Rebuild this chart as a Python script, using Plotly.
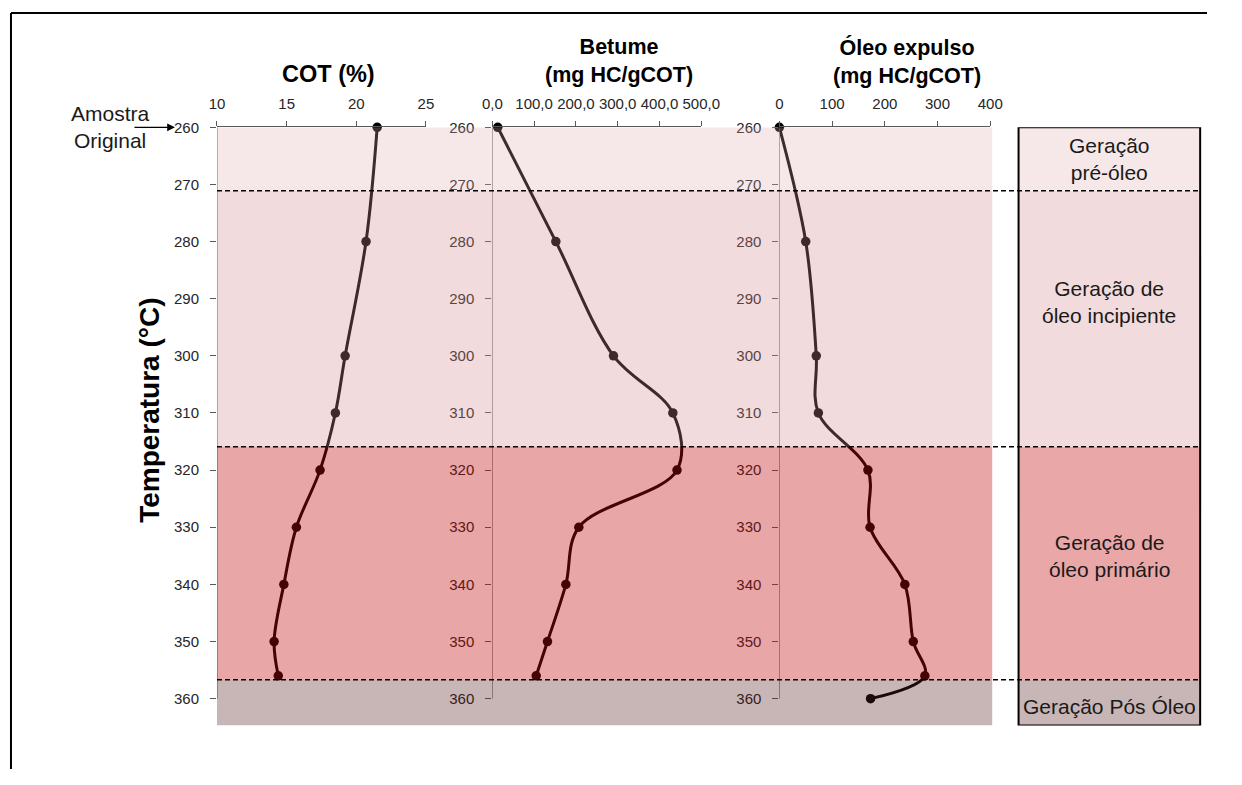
import plotly.graph_objects as go

# ---------------- data ----------------
temp_cot = [260, 280, 300, 310, 320, 330, 340, 350, 356]
cot = [21.5, 20.7, 19.2, 18.5, 17.4, 15.7, 14.8, 14.1, 14.4]

temp_bet = [260, 280, 300, 310, 320, 330, 340, 350, 356]
betume = [13, 152, 290, 432, 442, 207, 176, 132, 105]

temp_oleo = [260, 280, 300, 310, 320, 330, 340, 350, 356, 360]
oleo = [0, 50, 70, 74, 168, 172, 238, 254, 276, 173]

cot_ticks = [10, 15, 20, 25]
bet_ticks = [0, 100, 200, 300, 400, 500]
bet_ticktext = ["0,0", "100,0", "200,0", "300,0", "400,0", "500,0"]
oleo_ticks = [0, 100, 200, 300, 400]
temp_ticks = [260, 270, 280, 290, 300, 310, 320, 330, 340, 350, 360]

zone_bounds = [260, 271.1, 315.9, 356.7, 364.7]
zone_labels = ["Geração<br>pré-óleo", "Geração de<br>óleo incipiente",
               "Geração de<br>óleo primário", "Geração Pós Óleo"]
zone_label_y = [265.6, 290.5, 335.0, 361.3]

# ---------------- styling ----------------
# the page body keeps its default 8 px margin, so the figure is 16 px smaller
OFF = 8
W, H = 1242 - 2 * OFF, 785 - 2 * OFF
def px(x):
    return (x - OFF) / W
def py(y):
    return 1 - (y - OFF) / H

FONT = "Liberation Sans, Arial, sans-serif"
overlay = ["rgba(222,170,174,0.27)", "rgba(212,135,138,0.30)",
           "rgba(194,8,11,0.36)", "rgba(83,24,24,0.32)"]
opaque = ["#F6E8E9", "#F2DBDC", "#E9A7A8", "#C8B5B5"]
AXC = "#595959"
TXT = "#262626"

fig = go.Figure()
for xs, ys, xa, ya in [(cot, temp_cot, "x", "y"), (betume, temp_bet, "x2", "y2"),
                       (oleo, temp_oleo, "x3", "y3")]:
    fig.add_trace(go.Scatter(
        x=xs, y=ys, xaxis=xa, yaxis=ya, mode="lines+markers",
        line=dict(color="#000000", width=3, shape="spline", smoothing=1.0),
        marker=dict(color="#000000", size=9.5),
        cliponaxis=False, showlegend=False, hoverinfo="skip"))

ydom = [py(733), py(127.7)]
yrange = [zone_bounds[-1], 260]

def xax(dom, rng, tv, tt=None):
    d = dict(domain=dom, range=rng, side="top", tickvals=tv, showgrid=False,
             zeroline=False, showline=True, linecolor=AXC, linewidth=1,
             ticks="outside", ticklen=5, tickcolor=AXC,
             tickfont=dict(family=FONT, size=15, color=TXT),
             ticklabelstandoff=6)
    if tt is not None:
        d["ticktext"] = tt
    return d

def yax(anchor):
    return dict(domain=ydom, range=yrange, anchor=anchor, tickvals=temp_ticks,
                showgrid=False, zeroline=False, showline=False,
                ticks="outside", ticklen=6, tickcolor=AXC,
                tickfont=dict(family=FONT, size=15, color=TXT),
                ticklabelstandoff=8)

fig.update_layout(
    width=W, height=H, margin=dict(l=0, r=0, t=0, b=0),
    paper_bgcolor="white", plot_bgcolor="rgba(0,0,0,0)",
    xaxis=dict(xax([px(220), px(434)], [10, 25], cot_ticks), anchor="y"),
    xaxis2=dict(xax([px(502), px(716)], [0, 500], bet_ticks, bet_ticktext), anchor="y2"),
    xaxis3=dict(xax([px(796), px(1012)], [0, 400], oleo_ticks), anchor="y3"),
    yaxis=yax("x"), yaxis2=yax("x2"), yaxis3=yax("x3"),
)

shapes = []
# y axis lines (260-360 only)
for xr, yr, x0 in [("x", "y", 10), ("x2", "y2", 0), ("x3", "y3", 0)]:
    shapes.append(dict(type="line", xref=xr, yref=yr, x0=x0, x1=x0, y0=260, y1=360,
                       line=dict(color=AXC, width=1), layer="above"))
# translucent zone overlays across the three panels
for i in range(4):
    shapes.append(dict(type="rect", xref="paper", yref="y", x0=px(220), x1=px(1014),
                       y0=zone_bounds[i], y1=zone_bounds[i + 1], fillcolor=overlay[i],
                       line=dict(width=0), layer="above"))
# right-hand legend box zones
for i in range(4):
    shapes.append(dict(type="rect", xref="paper", yref="y", x0=px(1041), x1=px(1227),
                       y0=zone_bounds[i], y1=zone_bounds[i + 1], fillcolor=opaque[i],
                       line=dict(width=0), layer="above"))
# dashed boundaries
for b in zone_bounds[1:4]:
    shapes.append(dict(type="line", xref="paper", yref="y", x0=px(220), x1=px(1227),
                       y0=b, y1=b, line=dict(color="#000000", width=1.5, dash="5px,3px"),
                       layer="above"))
# box border
shapes.append(dict(type="rect", xref="paper", yref="y", x0=px(1041), x1=px(1227),
                   y0=zone_bounds[0], y1=zone_bounds[-1], fillcolor="rgba(0,0,0,0)",
                   line=dict(color="#000000", width=2), layer="above"))
# outer frame (top and left)
shapes.append(dict(type="line", xref="paper", yref="paper", x0=px(9), x1=1,
                   y0=py(12), y1=py(12), line=dict(color="#000000", width=2)))
shapes.append(dict(type="line", xref="paper", yref="paper", x0=px(9), x1=px(9),
                   y0=py(12), y1=0, line=dict(color="#000000", width=2)))
fig.update_layout(shapes=shapes)

def txt(text, x, y, size, yref="paper", color="#000000", **kw):
    return dict(text=text, x=x, y=y, xref="paper", yref=yref, showarrow=False,
                xanchor="center", yanchor="middle",
                font=dict(family=FONT, size=size, color=color), **kw)

ann = []
ann.append(txt("<b>COT (%)</b>", px(334), py(74), 23.5))
ann.append(txt("<b>Betume</b><br><b>(mg HC/gCOT)</b>", px(632), py(61), 21.5))
ann.append(txt("<b>Óleo expulso</b><br><b>(mg HC/gCOT)</b>", px(927), py(61), 21.5))
ann.append(txt("<b>Temperatura (°C)</b>", px(151), py(414), 28, textangle=-90))
ann.append(txt("Amostra<br>Original", px(111), 260, 21, yref="y", color="#1a1a1a"))
ann.append(dict(text="", x=px(177), y=260, xref="paper", yref="y", showarrow=True,
                ax=-42, ay=0, arrowhead=2, arrowsize=1.3, arrowwidth=1.2,
                arrowcolor="#000000", standoff=0))
for lab, yy in zip(zone_labels, zone_label_y):
    ann.append(txt(lab, px(1134), yy, 21, yref="y", color="#1a1a1a"))
fig.update_layout(annotations=ann)

fig.write_html("out.html")
